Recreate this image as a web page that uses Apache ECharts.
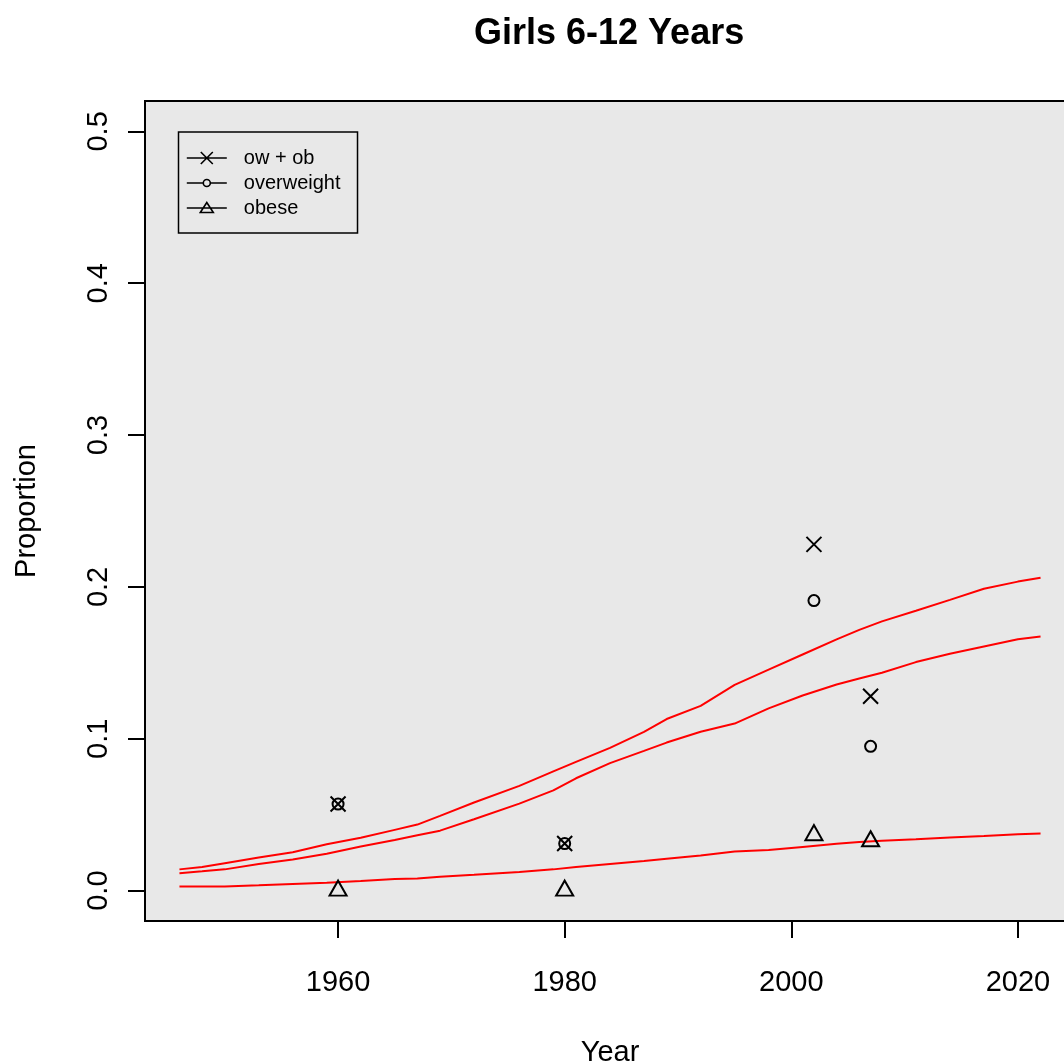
<!DOCTYPE html>
<html>
<head>
<meta charset="utf-8">
<script src="https://cdn.jsdelivr.net/npm/echarts@6/dist/echarts.min.js"></script>
<style>
html,body{margin:0;padding:0;background:#fff;}
#chart{width:1064px;height:1064px;}
</style>
</head>
<body>
<div id="chart"></div>
<script>
// ---- data ----
const curveYears = [1946, 1948, 1950, 1953, 1956, 1959, 1962, 1965, 1967, 1969, 1972, 1976, 1979, 1981, 1984, 1987, 1989, 1992, 1995, 1998, 2001, 2004, 2006, 2008, 2011, 2014, 2017, 2020, 2022];
const fitOwOb = [0.0140, 0.0155, 0.0180, 0.0218, 0.0253, 0.0305, 0.0348, 0.0400, 0.0435, 0.0492, 0.0580, 0.0690, 0.0785, 0.0848, 0.0940, 0.1045, 0.1130, 0.1217, 0.1355, 0.1455, 0.1555, 0.1655, 0.1717, 0.1773, 0.1843, 0.1915, 0.1988, 0.2035, 0.2060];
const fitOverweight = [0.0115, 0.0127, 0.0140, 0.0175, 0.0205, 0.0243, 0.0290, 0.0333, 0.0365, 0.0395, 0.0470, 0.0573, 0.0660, 0.0740, 0.0840, 0.0920, 0.0975, 0.1046, 0.1100, 0.1200, 0.1285, 0.1357, 0.1397, 0.1435, 0.1505, 0.1560, 0.1608, 0.1655, 0.1673];
const fitObese = [0.0027, 0.0027, 0.0027, 0.0035, 0.0044, 0.0052, 0.0064, 0.0077, 0.0080, 0.0092, 0.0104, 0.0122, 0.0140, 0.0155, 0.0175, 0.0195, 0.0210, 0.0232, 0.0257, 0.0268, 0.0288, 0.0308, 0.0320, 0.0328, 0.0338, 0.0350, 0.0360, 0.0372, 0.0376];

const surveyYears = [1960, 1980, 2002, 2007];
const obsOwOb = [0.057, 0.031, 0.228, 0.128];
const obsOverweight = [0.057, 0.031, 0.191, 0.095];
const obsObese = [0.0, 0.0, 0.0365, 0.0325];

const xTicks = [1960, 1980, 2000, 2020];
const yTicks = [0.0, 0.1, 0.2, 0.3, 0.4, 0.5];

const titleText = 'Girls 6-12 Years';
const xName = 'Year';
const yName = 'Proportion';
const names = ['ow + ob', 'overweight', 'obese'];

// ---- chart ----
const FONT = '"Liberation Sans", Arial, Helvetica, sans-serif';
const pair = (xs, ys) => xs.map((x, i) => [x, ys[i]]);
const crossPath = 'path://M0,0L10,10M10,0L0,10';

const lineSeries = (data) => ({
  type: 'line', data: data, symbol: 'none', silent: true, z: 2,
  lineStyle: { color: '#ff0000', width: 2 }
});
const pointStyle = { color: 'transparent', borderColor: '#000', borderWidth: 2, opacity: 1 };

const chart = echarts.init(document.getElementById('chart'), null, { renderer: 'canvas' });
chart.setOption({
  animation: false,
  backgroundColor: '#ffffff',
  title: {
    text: titleText, left: 469, top: 11,
    textStyle: { fontFamily: FONT, fontSize: 36, fontWeight: 'bold', color: '#000' }
  },
  grid: {
    show: true, left: 145, top: 101, width: 930, height: 820,
    containLabel: false, outerBoundsMode: 'none',
    backgroundColor: '#e8e8e8', borderColor: '#000', borderWidth: 2
  },
  legend: {
    orient: 'vertical', left: 178.5, top: 132,
    padding: [16, 17, 15, 7.5], itemGap: 5, itemWidth: 40, itemHeight: 16,
    backgroundColor: 'transparent', borderColor: '#000', borderWidth: 1.5, borderRadius: 0,
    selectedMode: false,
    textStyle: { fontFamily: FONT, fontSize: 20, color: '#000', lineHeight: 20, padding: [0, 0, 0, 12] },
    itemStyle: { color: 'transparent', borderColor: '#000', borderWidth: 1.6, opacity: 1 },
    data: [
      { name: names[0], icon: 'path://M0,0M40,16M0,8L40,8M14,2L26,14M26,2L14,14' },
      { name: names[1], icon: 'path://M0,0M40,16M0,8L16.5,8M23.5,8L40,8M23.5,8A3.5,3.5,0,1,1,16.5,8A3.5,3.5,0,1,1,23.5,8' },
      { name: names[2], icon: 'path://M0,0M40,16M0,8L40,8M13.5,12.5L20,2.5L26.5,12.5Z' }
    ]
  },
  xAxis: {
    type: 'value', min: 1942.96, max: 2025.04,
    name: xName, nameLocation: 'middle', nameGap: 117,
    nameTextStyle: { fontFamily: FONT, fontSize: 29, color: '#000' },
    axisLine: { show: false, onZero: false },
    axisTick: { show: true, length: 17, customValues: xTicks, lineStyle: { color: '#000', width: 2 } },
    axisLabel: {
      customValues: xTicks, margin: 47, fontFamily: FONT, fontSize: 29, color: '#000',
      formatter: (v) => String(v)
    },
    splitLine: { show: false }
  },
  yAxis: {
    type: 'value', min: -0.02, max: 0.52,
    name: yName, nameLocation: 'middle', nameGap: 104, nameRotate: 90,
    nameTextStyle: { fontFamily: FONT, fontSize: 29, color: '#000' },
    axisLine: { show: false, onZero: false },
    axisTick: { show: true, length: 17, customValues: yTicks, lineStyle: { color: '#000', width: 2 } },
    axisLabel: {
      customValues: yTicks, rotate: 90, margin: 32,
      fontFamily: FONT, fontSize: 29, color: '#000',
      formatter: (v) => Number(v).toFixed(1)
    },
    splitLine: { show: false }
  },
  series: [
    lineSeries(pair(curveYears, fitOwOb)),
    lineSeries(pair(curveYears, fitOverweight)),
    lineSeries(pair(curveYears, fitObese)),
    {
      name: names[0], type: 'scatter', z: 3, data: pair(surveyYears, obsOwOb),
      symbol: crossPath, symbolSize: 15, itemStyle: pointStyle
    },
    {
      name: names[1], type: 'scatter', z: 3, data: pair(surveyYears, obsOverweight),
      symbol: 'circle', symbolSize: 11, itemStyle: pointStyle
    },
    {
      name: names[2], type: 'scatter', z: 3, data: pair(surveyYears, obsObese),
      symbol: 'triangle', symbolSize: [17, 15], symbolOffset: [0, -2.5], itemStyle: pointStyle
    }
  ]
});
</script>
</body>
</html>
